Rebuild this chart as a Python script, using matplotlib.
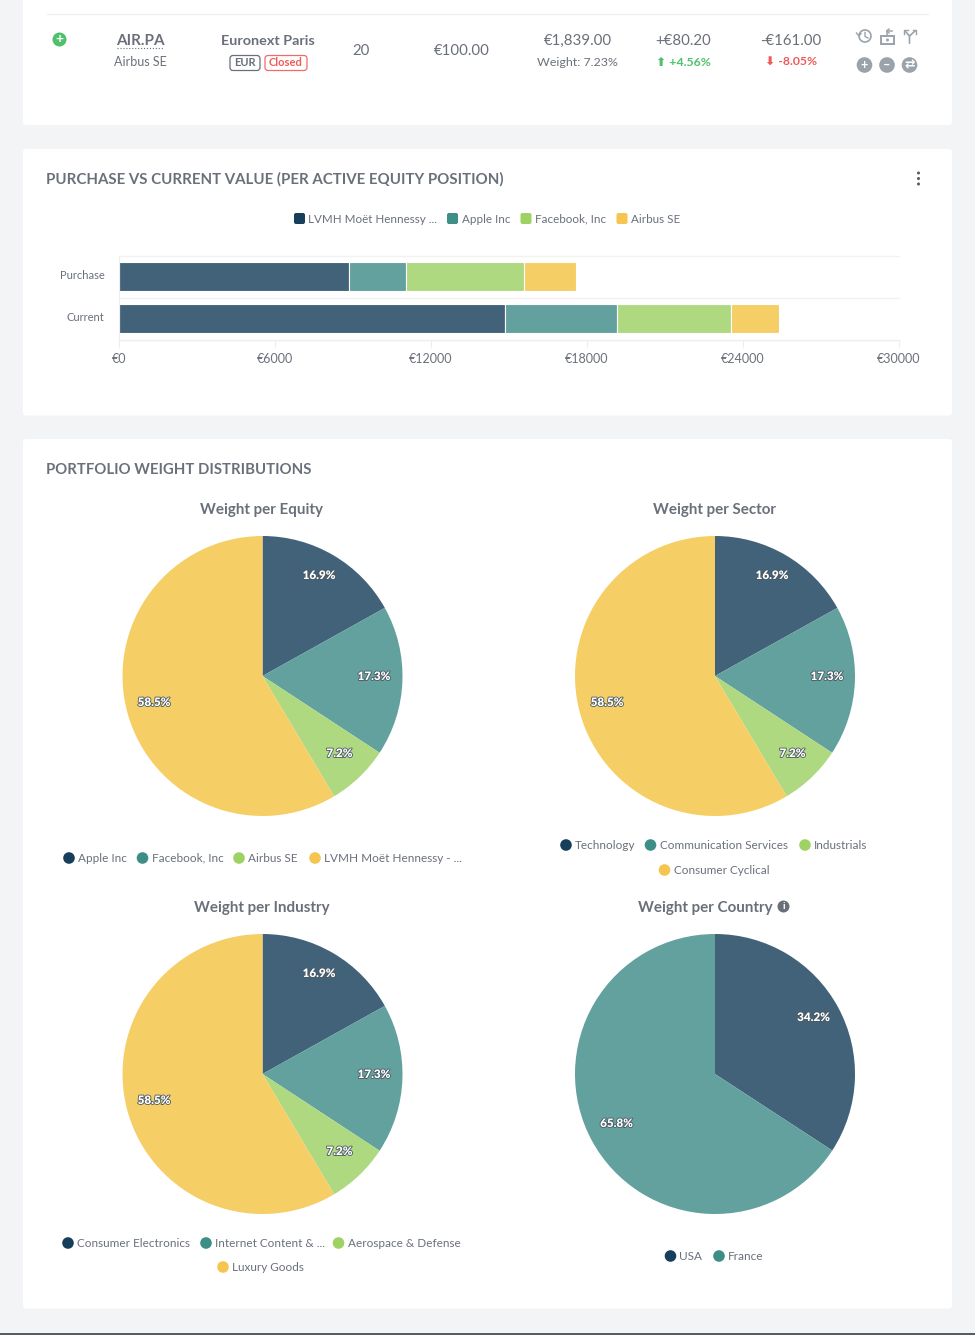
import matplotlib
matplotlib.use("Agg")
from matplotlib import pyplot as plt
from matplotlib.patches import Rectangle, FancyBboxPatch, Circle
from matplotlib.transforms import ScaledTranslation
import matplotlib.patheffects as pe

plt.rcParams['font.family'] = ['Lato', 'DejaVu Sans']

W, H = 975, 1335

# bar chart data
bar_categories = ['Purchase', 'Current']
bar_names = ['LVMH Moët Hennessy ...', 'Apple Inc', 'Facebook, Inc', 'Airbus SE']
lvmh_values = [8865, 14865]
apple_values = [2175, 4285]
facebook_values = [4540, 4390]
airbus_values = [2000, 1839]
bar_ticks = [0, 6000, 12000, 18000, 24000, 30000]

# pie data
equity_values = [16.9, 17.3, 7.2, 58.5]
sector_values = [16.9, 17.3, 7.2, 58.5]
industry_values = [16.9, 17.3, 7.2, 58.5]
country_values = [34.2, 65.8]
equity_names = ['Apple Inc', 'Facebook, Inc', 'Airbus SE', 'LVMH Moët Hennessy - ...']
sector_names = ['Technology', 'Communication Services', 'Industrials', 'Consumer Cyclical']
industry_names = ['Consumer Electronics', 'Internet Content & ...', 'Aerospace & Defense', 'Luxury Goods']
country_names = ['USA', 'France']

fill_colors = ['#426279', '#62a19e', '#afd981', '#f5cf66']
legend_colors = ['#173f5c', '#3d8e87', '#9ed363', '#f5c54f']
grey = '#6a707a'
light_grey = '#9aa3ab'


def ax_rect(left, top, width, height):
    return [left / W, 1 - (top + height) / H, width / W, height / H]


def pixel_layer():
    a = fig.add_axes([0, 0, 1, 1], facecolor='none')
    a.set_xlim(0, W)
    a.set_ylim(H, 0)
    a.axis('off')
    return a


fig = plt.figure(figsize=(W / 100, H / 100), dpi=100, facecolor='#f3f4f6')
bg = pixel_layer()


def txt(x, y, s, size=9.5, color=grey, ha='center', weight='normal', layer=None):
    return (layer or bg).text(x, y + 0.8, s, fontsize=size, color=color, ha=ha, va='center', fontweight=weight)


# cards
for top, bottom in [(-5, 125), (149, 415.5), (439, 1308.5)]:
    bg.add_patch(FancyBboxPatch((23, top), 929, bottom - top, boxstyle='round,pad=0,rounding_size=3',
                                fc='white', ec='none'))
bg.plot([0, W], [1334, 1334], color='#3a3f45', lw=1.2)

# position row at the top
bg.plot([47, 928], [14, 14], color='#f0f1f6', lw=1)
bg.add_patch(Circle((59.5, 39.5), 7, fc='#4fc06c', ec='none'))
txt(59.5, 38.5, '+', size=10, color='white', weight='bold')
txt(140, 40, 'AIR.PA', size=11, weight='bold')
bg.plot([117, 163], [47.5, 47.5], color=grey, lw=0.8, ls=':')
txt(140, 61.5, 'Airbus SE', size=9)
txt(268, 40, 'Euronext Paris', size=10.4, weight='bold')
bg.add_patch(FancyBboxPatch((230, 55.5), 30, 15, boxstyle='round,pad=0,rounding_size=3', fc='white', ec=grey, lw=0.9))
txt(245, 61.5, 'EUR', size=8, weight='bold')
bg.add_patch(FancyBboxPatch((265, 55.5), 42, 15, boxstyle='round,pad=0,rounding_size=3', fc='white', ec='#f26a6a', lw=0.9))
txt(286, 61.5, 'Closed', size=8, color='#f05a5a', weight='bold')
txt(361, 50, '20', size=10.8)
txt(462, 50, '€100.00', size=10.8)
txt(578, 40.5, '€1,839.00', size=10.8)
txt(577.5, 61.5, 'Weight: 7.23%', size=8.9)
txt(683, 40.5, '+€80.20', size=10.8)
txt(683, 61.5, '⬆ +4.56%', size=8.8, color='#4fc06c', weight='bold')
txt(791, 40.5, '-€161.00', size=10.8)
txt(791, 61.5, '⬇ -8.05%', size=8.8, color='#f05a5a', weight='bold')

# action icons
bg.add_patch(Circle((865, 36), 6, fc='none', ec=light_grey, lw=1.2))
bg.plot([865, 865, 868], [32.5, 36.5, 38], color=light_grey, lw=1)
bg.plot([856.5, 859, 861], [33, 36, 33.5], color=light_grey, lw=1)
bg.add_patch(Rectangle((881, 36), 13, 8, fc='none', ec=light_grey, lw=1.4))
bg.add_patch(Circle((887.5, 40), 1.5, fc=light_grey, ec='none'))
bg.plot([892, 887, 887], [31, 31, 35], color=light_grey, lw=1.1)
bg.plot([889, 886.5, 889], [29, 31, 33], color=light_grey, lw=1)
bg.plot([905, 909.5, 909.5], [31, 36, 43], color=light_grey, lw=1.2)
bg.plot([915, 909.5], [31, 36], color=light_grey, lw=1.2)
bg.plot([904, 904, 907.5], [34, 30, 30], color=light_grey, lw=1)
bg.plot([912.5, 916, 916], [30, 30, 34], color=light_grey, lw=1)
for cx, sym in [(864.5, '+'), (887, '–'), (909.5, '⇄')]:
    bg.add_patch(Circle((cx, 65), 7.8, fc=light_grey, ec='none'))
    txt(cx, 63.7, sym, size=9, color='white', weight='bold')

# section titles
txt(46, 179, 'PURCHASE VS CURRENT VALUE (PER ACTIVE EQUITY POSITION)', size=10.8, ha='left', weight='bold')
txt(46, 469, 'PORTFOLIO WEIGHT DISTRIBUTIONS', size=10.7, ha='left', weight='bold')
for dot_y in [173, 178.5, 184]:
    bg.add_patch(Circle((918.5, dot_y), 1.5, fc='#555b63', ec='none'))

# bar legend
for x, c, name in zip([294, 447, 520.5, 616.5], legend_colors, bar_names):
    bg.add_patch(FancyBboxPatch((x, 213), 11, 11, boxstyle='round,pad=0,rounding_size=2', fc=c, ec='none'))
    txt(x + 14.5, 218.3, name, size=8.4, ha='left')

# stacked bars
ax = fig.add_axes(ax_rect(119, 255.5, 780, 84), facecolor='none')
left = [0, 0]
for values, c in zip([lvmh_values, apple_values, facebook_values, airbus_values], fill_colors):
    ax.barh(bar_categories, values, left=left, height=0.68, color=c, edgecolor='white', linewidth=0.8)
    left = [a + b for a, b in zip(left, values)]
ax.set_xlim(0, 30000)
ax.set_ylim(1.5, -0.5)
ax.set_xticks(bar_ticks)
ax.set_xticklabels(['€%d' % t for t in bar_ticks], fontsize=9, color=grey)
ax.tick_params(axis='x', length=6, color='#eeeeee', pad=4)
ax.tick_params(axis='y', length=0, pad=10.5, labelsize=8, labelcolor=grey)
for label in ax.get_yticklabels():
    label.set_transform(label.get_transform() + ScaledTranslation(0, 2 / 100, fig.dpi_scale_trans))
for s in ['top', 'right']:
    ax.spines[s].set_visible(False)
ax.spines['left'].set_color('#eeeeee')
ax.spines['bottom'].set_color('#eeeeee')
for y in [-0.5, 0.5, 1.5]:
    ax.axhline(y, color='#f2f2f2', lw=1, zorder=0, clip_on=False)


def pie(cx, cy, values):
    r = 140
    a = fig.add_axes(ax_rect(cx - r, cy - r, 2 * r, 2 * r))
    a.pie(values, colors=fill_colors[:len(values)], startangle=90, counterclock=False,
          radius=1, wedgeprops={'linewidth': 0})
    a.set_xlim(-1, 1)
    a.set_ylim(-1, 1)


pie(262.5, 676, equity_values)
pie(715, 676, sector_values)
pie(262.5, 1074, industry_values)
pie(715, 1074, country_values)

# labels go on a layer above the pies
top_layer = pixel_layer()


def pie_label(x, y, s):
    top_layer.text(x, y + 0.5, s, fontsize=8.4, color='white', ha='center', va='center', fontweight='heavy',
                   path_effects=[pe.withStroke(linewidth=1.2, foreground='#4a5862')])


for cx, cy in [(262, 676), (715, 676), (262, 1074)]:
    for dx, dy, v in zip([57, 112, 77.5, -108], [-101, 0, 77, 26], equity_values):
        pie_label(cx + dx, cy + dy, '%.1f%%' % v)
pie_label(813.5, 1017, '%.1f%%' % country_values[0])
pie_label(616.5, 1123, '%.1f%%' % country_values[1])

txt(261.5, 509, 'Weight per Equity', size=10.9, weight='bold')
txt(714.5, 509, 'Weight per Sector', size=10.9, weight='bold')
txt(261.5, 907, 'Weight per Industry', size=10.9, weight='bold')
txt(705, 907, 'Weight per Country', size=10.9, weight='bold')

# info icon next to country title
bg.add_patch(Circle((783.5, 906.5), 6, fc=grey, ec='none'))
txt(783.5, 905.5, 'i', size=7.5, color='white', weight='bold')


def dot_legend(y, xs, names, colors):
    for x, c, name in zip(xs, colors, names):
        bg.add_patch(Circle((x, y), 5.8, fc=c, ec='none'))
        txt(x + 9, y - 0.5, name, size=8.5, ha='left')


# pie legends
dot_legend(858, [69, 142.5, 239, 315], equity_names, legend_colors)
dot_legend(845, [566, 650.5, 805], sector_names[:3], legend_colors)
dot_legend(870, [664.5], sector_names[3:], legend_colors[3:])
dot_legend(1243, [68, 206, 338.5], industry_names[:3], legend_colors)
dot_legend(1267, [223], industry_names[3:], legend_colors[3:])
dot_legend(1256, [670.5, 719], country_names, legend_colors)

fig.savefig('out.png', dpi=100, facecolor=fig.get_facecolor())
